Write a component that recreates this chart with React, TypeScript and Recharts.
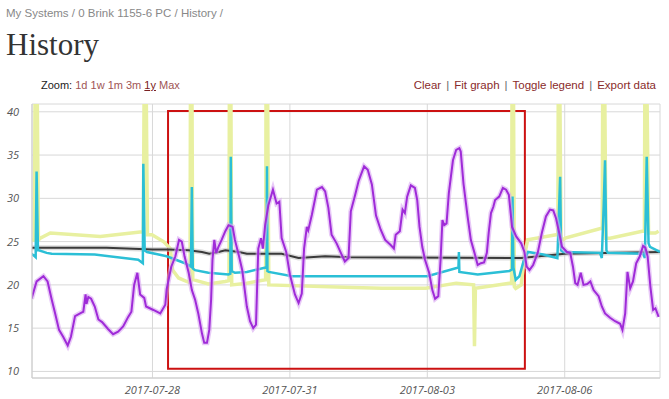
import { CartesianGrid, Line, LineChart, ReferenceArea, XAxis, YAxis } from "recharts";

// x values are days since 2017-07-25 00:00
const dateTicks = [3, 6, 9, 12];
const dateLabels = ["2017-07-28", "2017-07-31", "2017-08-03", "2017-08-06"];
const tempTicks = [10, 15, 20, 25, 30, 35, 40];

const purpleDays = [
  0.36, 0.47, 0.62, 0.71, 0.8, 0.87, 0.96, 1.05, 1.15, 1.22, 1.31, 1.45, 1.49, 1.54, 1.56, 1.6, 1.66, 1.74,
  1.82, 1.9, 2.03, 2.14, 2.25, 2.36, 2.47, 2.54, 2.6, 2.67, 2.73, 2.82, 2.86, 3.02, 3.17, 3.28, 3.31, 3.41,
  3.5, 3.58, 3.64, 3.7, 3.79, 3.86, 3.93, 4.0, 4.08, 4.13, 4.19, 4.24, 4.28, 4.31, 4.35, 4.39, 4.44, 4.51,
  4.59, 4.66, 4.75, 4.8, 4.89, 4.96, 5.06, 5.13, 5.2, 5.26, 5.31, 5.37, 5.41, 5.46, 5.53, 5.63, 5.71, 5.77,
  5.82, 5.92, 6.0, 6.11, 6.19, 6.26, 6.31, 6.37, 6.4, 6.48, 6.59, 6.7, 6.77, 6.84, 6.91, 7.02, 7.13, 7.2,
  7.28, 7.33, 7.42, 7.5, 7.62, 7.7, 7.79, 7.88, 7.98, 8.08, 8.2, 8.27, 8.31, 8.4, 8.46, 8.51, 8.56, 8.64,
  8.73, 8.78, 8.83, 8.89, 8.95, 9.04, 9.11, 9.17, 9.24, 9.29, 9.33, 9.37, 9.42, 9.47, 9.56, 9.63, 9.7, 9.73,
  9.79, 9.88, 9.95, 10.03, 10.1, 10.17, 10.24, 10.3, 10.34, 10.39, 10.44, 10.48, 10.57, 10.65, 10.72, 10.78,
  10.85, 10.94, 11.05, 11.12, 11.17, 11.23, 11.31, 11.41, 11.5, 11.59, 11.68, 11.75, 11.81, 11.88, 11.94,
  12.05, 12.12, 12.18, 12.23, 12.28, 12.35, 12.41, 12.49, 12.56, 12.63, 12.74, 12.81, 12.88, 12.99, 13.1,
  13.21, 13.26, 13.32, 13.37, 13.43, 13.49, 13.56, 13.64, 13.71, 13.76, 13.81, 13.87, 13.93, 13.98, 14.05,
];
const purpleTemps = [
  18.4, 20.4, 21.0, 20.4, 18.3, 16.8, 14.8, 14.0, 13.0, 14.0, 16.4, 16.8, 16.9, 18.9, 17.8, 18.6, 18.4, 17.5,
  16.0, 15.7, 14.9, 14.3, 14.6, 15.2, 16.3, 16.9, 20.0, 21.4, 18.9, 18.5, 17.5, 17.1, 16.7, 17.7, 19.5, 22.1,
  23.3, 25.2, 25.0, 23.3, 21.4, 19.4, 18.3, 16.7, 14.4, 13.3, 13.3, 14.8, 18.3, 22.9, 25.2, 23.7, 24.4, 25.2,
  26.2, 26.9, 26.7, 25.2, 23.3, 21.7, 17.5, 15.8, 15.0, 15.4, 24.2, 25.4, 24.2, 26.9, 29.2, 31.0, 29.4, 29.6,
  25.4, 23.8, 21.2, 18.9, 17.9, 19.0, 24.2, 26.7, 26.3, 28.1, 31.0, 31.3, 30.8, 28.9, 25.8, 24.8, 23.5, 22.7,
  23.1, 28.5, 30.3, 32.0, 33.7, 33.3, 31.6, 28.0, 26.4, 25.2, 24.6, 24.2, 25.8, 26.2, 28.7, 28.3, 30.2, 31.5,
  31.2, 29.8, 26.7, 24.4, 22.9, 21.4, 19.4, 18.4, 18.7, 22.9, 27.5, 26.9, 27.1, 30.6, 34.4, 35.6, 35.8, 35.4,
  31.7, 27.9, 25.2, 23.7, 22.3, 22.5, 22.6, 23.7, 26.0, 28.3, 29.0, 29.8, 30.2, 31.2, 31.0, 30.4,
  26.7, 25.6, 24.8, 23.8, 22.1, 21.7, 22.3, 23.7, 26.0, 27.9, 28.7, 28.6, 27.7, 26.0, 24.4,
  23.8, 23.7, 22.1, 20.2, 20.0, 21.4, 20.0, 20.1, 20.4, 19.4, 18.7, 17.5, 16.7, 16.2, 15.8,
  15.5, 14.8, 16.7, 21.5, 19.6, 20.4, 22.5, 23.3, 24.5, 24.3, 23.3, 19.8, 17.1, 17.3, 16.3,
];

const blackDays = [0.36, 2.0, 3.0, 3.35, 3.79, 4.08, 4.24, 4.44, 4.59, 4.89, 5.06, 5.82, 6.19, 6.77, 7.33, 11.05, 12.0, 14.08];
const blackTemps = [24.3, 24.3, 24.1, 24.1, 24.0, 23.8, 23.6, 23.8, 24.0, 23.8, 23.6, 23.6, 23.1, 23.3, 23.2, 23.1, 23.6, 23.8];

const cyanDays = [
  0.36, 0.43, 0.45, 0.47, 0.5, 0.52, 0.69, 0.8, 1.74, 2.69, 2.79, 2.8, 2.83, 2.88, 3.31, 3.71, 3.84, 3.86,
  3.88, 3.93, 4.22, 4.66, 4.7, 4.71, 4.73, 4.8, 5.06, 5.47, 5.49, 5.5, 5.51, 5.54, 6.05, 7.36, 9.0, 9.68,
  9.69, 9.7, 10.1, 10.79, 10.85, 10.86, 10.88, 10.93, 11.01, 11.1, 11.2, 11.53, 11.84, 11.9, 11.92, 11.97,
  12.77, 12.81, 12.85, 12.88, 12.91, 12.94, 13.71, 13.75, 13.79, 13.83, 13.86, 14.08,
];
const cyanTemps = [
  23.6, 23.3, 23.2, 33.1, 24.0, 24.0, 23.7, 23.6, 23.5, 22.9, 22.5, 34.0, 24.0, 23.8, 23.3, 22.5, 22.1, 31.3,
  21.9, 21.7, 21.4, 21.2, 21.3, 34.8, 21.6, 21.4, 21.5, 22.0, 22.1, 33.7, 21.6, 21.5, 21.0, 21.0, 21.0, 22.0,
  23.8, 21.5, 21.2, 21.6, 21.8, 30.2, 22.0, 20.6, 21.0, 22.7, 23.8, 23.5, 23.1, 32.5, 24.0, 23.8,
  23.7, 23.1, 29.0, 34.4, 24.0, 23.7, 23.6, 23.1, 34.8, 24.8, 24.4, 23.8,
];

const yellowDays = [
  0.36, 0.42, 0.44, 0.48, 0.51, 0.55, 0.77, 1.86, 2.73, 2.8, 2.82, 2.86, 2.89, 2.99, 3.24, 3.39, 3.44, 3.57,
  3.79, 3.82, 3.83, 3.86, 3.88, 3.89, 4.22, 4.59, 4.67, 4.68, 4.71, 4.73, 5.06, 5.47, 5.48, 5.51, 5.54, 7.36,
  8.02, 8.97, 9.63, 10.01, 10.03, 10.05, 10.79, 10.84, 10.85, 10.88, 10.9, 10.93, 11.05, 11.12, 11.19, 11.81,
  11.85, 11.86, 11.89, 11.92, 12.01, 12.78, 12.82, 12.83, 12.87, 12.9, 12.99, 13.69, 13.74, 13.75, 13.79, 13.83,
  13.98, 14.05,
];
const yellowTemps = [
  25.2, 25.2, 45, 45, 25.2, 25.4, 26.0, 25.6, 26.1, 26.1, 45, 45, 25.8, 25.8, 25.0, 24.2, 21.7, 20.8,
  20.3, 20.3, 45, 45, 20.6, 20.6, 20.1, 20.4, 20.5, 45, 45, 20.0, 20.2, 20.6, 45, 45, 20.0, 19.7,
  19.6, 19.6, 20.2, 20.0, 12.9, 19.6, 20.2, 20.2, 45, 45, 19.8, 19.6, 20.0, 23.3, 25.2, 25.8,
  25.8, 45, 45, 25.0, 25.4, 26.5, 26.5, 45, 45, 25.4, 25.4, 26.2, 26.2, 45, 45, 26.0,
  26.0, 26.2,
];

// highlighted selection box
const selectionDays = [3.34, 11.13];
const selectionTemps = [10.3, 40.1];

const toPoints = (days: number[], temps: number[]) => days.map((d, i) => ({ d, v: temps[i] }));

const purple = toPoints(purpleDays, purpleTemps);
const black = toPoints(blackDays, blackTemps);
const cyan = toPoints(cyanDays, cyanTemps);
const yellow = toPoints(yellowDays, yellowTemps);

const tickStyle = { fontFamily: "'Open Sans', sans-serif", fontSize: 11, fontStyle: "italic", fill: "#555" };
const linkColor = "#8a2b2b";
const sep = <span style={{ color: "#666", margin: "0 5px" }}>|</span>;

export default function App() {
  return (
    <div
      style={{
        position: "absolute",
        left: 0,
        top: 0,
        width: 669,
        height: 399,
        background: "#fff",
        overflow: "hidden",
        fontFamily: "'Liberation Sans', Arial, sans-serif",
      }}
    >
      <div style={{ position: "absolute", left: 6, top: 7, fontSize: 11.5, lineHeight: "12px", color: "#888" }}>
        My Systems / 0 Brink 1155-6 PC / History /
      </div>
      <div
        style={{
          position: "absolute",
          left: 6,
          top: 29,
          fontFamily: "'Liberation Serif', serif",
          fontSize: 31,
          lineHeight: "31px",
          color: "#333",
        }}
      >
        History
      </div>
      <div style={{ position: "absolute", left: 41, top: 79, fontSize: 11, lineHeight: "12px", color: "#222" }}>
        Zoom:{" "}
        <span style={{ color: "#a05555" }}>1d 1w 1m 3m </span>
        <span style={{ color: "#7a2020", textDecoration: "underline" }}>1y</span>
        <span style={{ color: "#a05555" }}> Max</span>
      </div>
      <div style={{ position: "absolute", right: 13, top: 79, fontSize: 11.5, lineHeight: "12px", color: linkColor }}>
        Clear{sep}Fit graph{sep}Toggle legend{sep}Export data
      </div>

      <LineChart
        width={669}
        height={399}
        margin={{ top: 104, right: 9, bottom: 0, left: 6 }}
        style={{ position: "absolute", left: 0, top: 0 }}
      >
        <CartesianGrid stroke="#d8d8d8" />
        <XAxis
          type="number"
          dataKey="d"
          domain={[0.37, 14.08]}
          allowDataOverflow
          ticks={dateTicks}
          tickFormatter={(t: number) => dateLabels[dateTicks.indexOf(t)]}
          tick={tickStyle}
          tickSize={0}
          tickMargin={8}
          height={21}
          axisLine={{ stroke: "#ccc" }}
        />
        <XAxis xAxisId="top" orientation="top" type="number" domain={[0.37, 14.08]} height={0} tick={false} axisLine={{ stroke: "#ccc" }} />
        <YAxis
          type="number"
          domain={[9.24, 40.9]}
          allowDataOverflow
          ticks={tempTicks}
          tick={tickStyle}
          tickSize={0}
          tickMargin={13}
          width={26}
          axisLine={{ stroke: "#ccc" }}
        />
        <YAxis yAxisId="right" orientation="right" domain={[9.24, 40.9]} width={0} tick={false} axisLine={{ stroke: "#ccc" }} />
        <Line data={yellow} dataKey="v" stroke="#e8f0a0" strokeWidth={3.5} dot={false} isAnimationActive={false} />
        <Line data={black} dataKey="v" stroke="#bbb" strokeOpacity={0.5} strokeWidth={5} dot={false} isAnimationActive={false} />
        <Line data={black} dataKey="v" stroke="#3a3a3a" strokeWidth={2} dot={false} isAnimationActive={false} />
        <Line data={cyan} dataKey="v" stroke="#2bbfd6" strokeWidth={2.5} dot={false} isAnimationActive={false} />
        <Line data={purple} dataKey="v" stroke="#d9a6f2" strokeOpacity={0.6} strokeWidth={5} dot={false} isAnimationActive={false} />
        <Line data={purple} dataKey="v" stroke="#9f2bd8" strokeWidth={2} dot={false} isAnimationActive={false} />
        <ReferenceArea
          x1={selectionDays[0]}
          x2={selectionDays[1]}
          y1={selectionTemps[0]}
          y2={selectionTemps[1]}
          fill="none"
          fillOpacity={0}
          stroke="#cc1111"
          strokeWidth={2}
          strokeOpacity={1}
        />
      </LineChart>
    </div>
  );
}
